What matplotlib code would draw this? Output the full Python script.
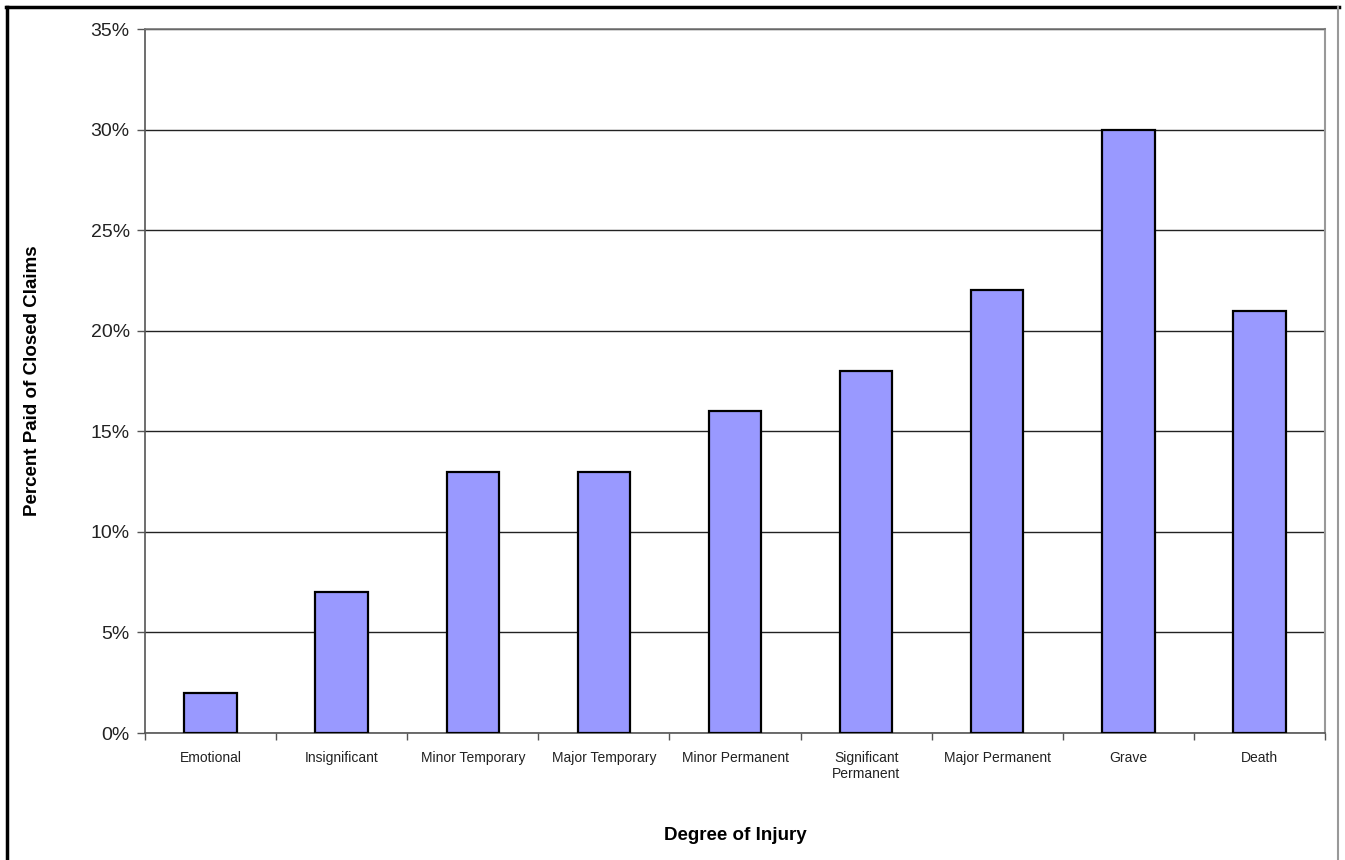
import matplotlib
matplotlib.use("Agg")
import matplotlib.pyplot as plt
from matplotlib.lines import Line2D
from matplotlib.ticker import FuncFormatter, FixedLocator

categories = ["Emotional", "Insignificant", "Minor Temporary", "Major Temporary",
              "Minor Permanent", "Significant\nPermanent", "Major Permanent",
              "Grave", "Death"]
percent_paid = [2, 7, 13, 13, 16, 18, 22, 30, 21]
y_ticks = [0, 5, 10, 15, 20, 25, 30, 35]

plt.rcParams['font.family'] = ['Liberation Sans', 'DejaVu Sans']

W, H = 1345, 860
fig = plt.figure(figsize=(W / 100, H / 100), dpi=100)
ax = fig.add_axes([145 / W, 1 - 733 / H, (1325 - 145) / W, (733 - 29) / H])

x = list(range(len(categories)))
ax.bar(x, percent_paid, width=0.4, color="#9999FF", edgecolor="black",
       linewidth=1.6, zorder=3)

ax.set_xlim(-0.5, len(categories) - 0.5)
ax.set_ylim(0, 35)
ax.set_yticks(y_ticks)
ax.yaxis.set_major_formatter(FuncFormatter(lambda v, p: f"{int(v)}%"))
ax.yaxis.grid(True, color="#222222", linewidth=1.0, zorder=0)
ax.set_axisbelow(True)

# category labels centred on bars, tick marks on category boundaries
ax.set_xticks(x)
ax.set_xticklabels(categories, fontsize=10, color="#222222", va="top",
                   linespacing=1.15)
ax.tick_params(axis="x", length=0, pad=13)
ax.xaxis.set_minor_locator(FixedLocator([i - 0.5 for i in range(len(categories) + 1)]))
ax.tick_params(axis="x", which="minor", length=5, color="#555555", width=1)
ax.tick_params(axis="y", length=6, color="#555555", width=1, labelsize=14,
               pad=5, labelcolor="#222222")

for side in ["left", "bottom"]:
    ax.spines[side].set_color("#555555")
    ax.spines[side].set_linewidth(1.2)
ax.spines["right"].set_color("#999999")
ax.spines["right"].set_linewidth(1.5)
ax.spines["top"].set_color("#777777")
ax.spines["top"].set_linewidth(1.2)

ax.set_ylabel("Percent Paid of Closed Claims", fontsize=13.5, fontweight="bold")
ax.yaxis.set_label_coords((33 - 145) / (1325 - 145), 0.5)
ax.set_xlabel("Degree of Injury", fontsize=13.5, fontweight="bold")
ax.xaxis.set_label_coords((735 - 145) / (1325 - 145), -(835 - 733) / (733 - 29))
ax.xaxis.label.set_va("center")
ax.yaxis.label.set_va("center")

# outer chart frame
fx = lambda px: px / W
fy = lambda py: 1 - py / H
fig.add_artist(Line2D([fx(7), fx(7)], [fy(7), 0], color="black", linewidth=2.5))
fig.add_artist(Line2D([fx(6), fx(1339)], [fy(7), fy(7)], color="black", linewidth=2.5))
fig.add_artist(Line2D([fx(1338), fx(1338)], [fy(7), 0], color="#999999", linewidth=1.5))

fig.savefig("out.png", dpi=100)
